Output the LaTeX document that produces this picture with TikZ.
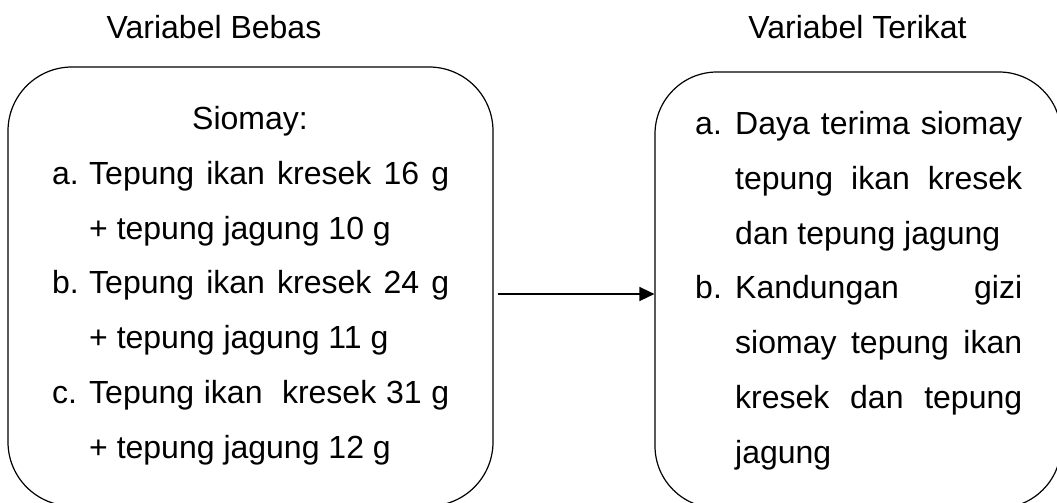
\documentclass[tikz,border=0pt]{standalone}
\usepackage{fontspec}
\setmainfont{Liberation Sans}
\usetikzlibrary{arrows.meta}
\begin{document}
\begin{tikzpicture}[x=1pt,y=-1pt,
  box/.style={draw=black, line width=1.2pt, rounded corners=64pt, inner sep=0pt},
  txt/.style={inner sep=0pt, anchor=base west, font=\fontsize{32}{38}\selectfont},
  ctxt/.style={inner sep=0pt, anchor=base, font=\fontsize{32}{38}\selectfont},
  conn/.style={line width=1.5pt, -{Triangle[length=15pt,width=14pt]}}]
\useasboundingbox (0,0) rectangle (1057,503);
\clip (0,0) rectangle (1057,503);
% titles
\node[ctxt] (tL) at (214,39) {Variabel Bebas};
\node[ctxt] (tR) at (857.5,39) {Variabel Terikat};
% boxes
\node[box, minimum width=485pt, minimum height=439pt] (L) at (250.5,286.5) {};
\node[box, rounded corners=62pt, minimum width=406pt, minimum height=436pt] (R) at (858,290) {};
% left text
\node[ctxt] (s0) at (250,129) {Siomay:};
\node[txt] (la) at (52,184) {a.};
\node[txt] (la1) at (89,184) {\makebox[360pt][s]{Tepung ikan kresek 16 g}};
\node[txt] (la2) at (89,239) {+ tepung jagung 10 g};
\node[txt] (lb) at (52,293) {b.};
\node[txt] (lb1) at (89,293) {\makebox[360pt][s]{Tepung ikan kresek 24 g}};
\node[txt] (lb2) at (89,348) {+ tepung jagung 11 g};
\node[txt] (lc) at (52,403) {c.};
\node[txt] (lc1) at (89,403) {\makebox[360pt][s]{Tepung ikan\ \ kresek 31 g}};
\node[txt] (lc2) at (89,458) {+ tepung jagung 12 g};
% right text
\node[txt] (ra) at (695,134) {a.};
\node[txt] (ra1) at (735,134) {\makebox[287pt][s]{Daya terima siomay}};
\node[txt] (ra2) at (735,189) {\makebox[287pt][s]{tepung ikan kresek}};
\node[txt] (ra3) at (735,244) {dan tepung jagung};
\node[txt] (rb) at (695,298) {b.};
\node[txt] (rb1) at (735,298) {\makebox[287pt][s]{Kandungan gizi}};
\node[txt] (rb2) at (735,353) {\makebox[287pt][s]{siomay tepung ikan}};
\node[txt] (rb3) at (735,408) {\makebox[287pt][s]{kresek dan tepung}};
\node[txt] (rb4) at (735,463) {jagung};
% connector
\coordinate (ay) at (0,294);
\draw[conn] ([xshift=4pt]L.east |- ay) -- (R.west |- ay);
\end{tikzpicture}
\end{document}
